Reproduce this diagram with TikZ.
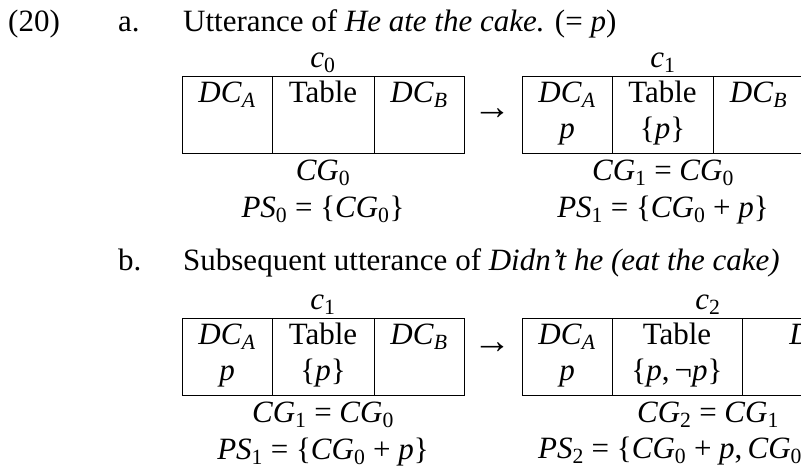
\documentclass[tikz,border=0pt]{standalone}
\usepackage{fontspec}
\setmainfont{Liberation Serif}
\usetikzlibrary{positioning,calc}
\newcommand{\vx}[2]{\textit{#1}\textsubscript{#2}}
\newcommand{\dca}{\vx{DC}{\textit{A}}}
\newcommand{\dcb}{\vx{DC}{\textit{B}}}
\newcommand{\cg}[1]{\vx{CG}{#1}}
\newcommand{\pset}[1]{\vx{PS}{#1}}

\begin{document}
\begin{tikzpicture}[x=1pt, y=-1pt,
  txt/.style={font=\fontsize{31}{37}\selectfont, inner sep=0pt},
  midtxt/.style={txt, anchor=base},
  lefttxt/.style={txt, anchor=base west},
  arrtxt/.style={font=\fontsize{38}{40}\selectfont, inner sep=0pt},
  cellbox/.style={draw, line width=0.8pt, inner sep=0pt, outer sep=0pt,
    minimum height=77pt, anchor=north west}
]
\useasboundingbox (0,0) rectangle (801,472);
\clip (0,0) rectangle (801,472);

\node[lefttxt] (num) at (8,31) {(20)};
\node[lefttxt] (la) at (118,31) {a.};
\node[lefttxt] (heada) at (183,31) {Utterance of \textit{He ate the cake.} (= \textit{p})};

\node[cellbox, minimum width=90pt] (a0A) at (182,76) {};
\node[cellbox, minimum width=102pt, right=0pt of a0A] (a0T) {};
\node[cellbox, minimum width=90pt, right=0pt of a0T] (a0B) {};
\node[midtxt] (a0c) at ($(a0A.north west)!0.5!(a0B.north east)+(0,-9)$) {\vx{c}{0}};
\node[midtxt] at ($(a0A.north)+(0,26)$) {\dca};
\node[midtxt] at ($(a0T.north)+(0,26)$) {Table};
\node[midtxt] at ($(a0B.north)+(0,26)$) {\dcb};
\node[midtxt] (a0cg) at ($(a0A.north west)!0.5!(a0B.north east)+(0,104)$) {\cg{0}};
\node[midtxt] (a0ps) at ($(a0A.north west)!0.5!(a0B.north east)+(0,141)$) {\pset{0} = \{\cg{0}\}};

\node[arrtxt] (arra) at (492,114) {→};

\node[cellbox, minimum width=90pt] (a1A) at (522,76) {};
\node[cellbox, minimum width=101pt, right=0pt of a1A] (a1T) {};
\node[cellbox, minimum width=91pt, right=0pt of a1T] (a1B) {};
\node[midtxt] (a1c) at ($(a1A.north west)!0.5!(a1B.north east)+(0,-9)$) {\vx{c}{1}};
\node[midtxt] at ($(a1A.north)+(0,26)$) {\dca};
\node[midtxt] at ($(a1T.north)+(0,26)$) {Table};
\node[midtxt] at ($(a1B.north)+(0,26)$) {\dcb};
\node[midtxt] at ($(a1A.north)+(0,62)$) {\textit{p}};
\node[midtxt] at ($(a1T.north)+(0,62)$) {\{\textit{p}\}};
\node[midtxt] (a1cg) at ($(a1A.north west)!0.5!(a1B.north east)+(0,104)$) {\cg{1} = \cg{0}};
\node[midtxt] (a1ps) at ($(a1A.north west)!0.5!(a1B.north east)+(0,141)$) {\pset{1} = \{\cg{0} + \textit{p}\}};

\node[lefttxt] (lb) at (118,270) {b.};
\node[lefttxt] (headb) at (183,270) {Subsequent utterance of \textit{Didn’t he (eat the cake)}};

\node[cellbox, minimum width=90pt] (b1A) at (182,318) {};
\node[cellbox, minimum width=102pt, right=0pt of b1A] (b1T) {};
\node[cellbox, minimum width=90pt, right=0pt of b1T] (b1B) {};
\node[midtxt] (b1c) at ($(b1A.north west)!0.5!(b1B.north east)+(0,-9)$) {\vx{c}{1}};
\node[midtxt] at ($(b1A.north)+(0,26)$) {\dca};
\node[midtxt] at ($(b1T.north)+(0,26)$) {Table};
\node[midtxt] at ($(b1B.north)+(0,26)$) {\dcb};
\node[midtxt] at ($(b1A.north)+(0,62)$) {\textit{p}};
\node[midtxt] at ($(b1T.north)+(0,62)$) {\{\textit{p}\}};
\node[midtxt] (b1cg) at ($(b1A.north west)!0.5!(b1B.north east)+(0,104)$) {\cg{1} = \cg{0}};
\node[midtxt] (b1ps) at ($(b1A.north west)!0.5!(b1B.north east)+(0,141)$) {\pset{1} = \{\cg{0} + \textit{p}\}};

\node[arrtxt] (arrb) at (492,348) {→};

\node[cellbox, minimum width=90pt] (b2A) at (522,318) {};
\node[cellbox, minimum width=130pt, right=0pt of b2A] (b2T) {};
\node[cellbox, minimum width=152pt, right=0pt of b2T] (b2B) {};
\node[midtxt] (b2c) at ($(b2A.north west)!0.5!(b2B.north east)+(0,-9)$) {\vx{c}{2}};
\node[midtxt] at ($(b2A.north)+(0,26)$) {\dca};
\node[midtxt] at ($(b2T.north)+(0,26)$) {Table};
\node[midtxt] at ($(b2B.north)+(0,26)$) {\dcb};
\node[midtxt] at ($(b2A.north)+(0,62)$) {\textit{p}};
\node[midtxt] at ($(b2T.north)+(0,62)$) {\{\textit{p},\,¬\textit{p}\}};
\node[midtxt] (b2cg) at ($(b2A.north west)!0.5!(b2B.north east)+(0,104)$) {\cg{2} = \cg{1}};
\node[lefttxt] (b2ps) at (538,458) {\pset{2} = \{\cg{0} + \textit{p},\,\cg{0}};
\end{tikzpicture}
\end{document}
